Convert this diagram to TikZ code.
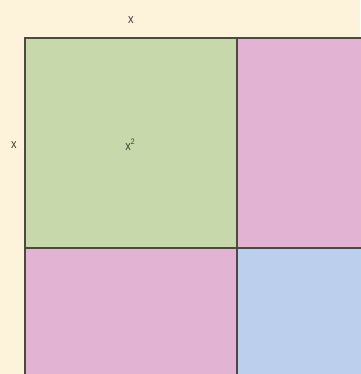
\documentclass[tikz,border=0pt]{standalone}
\usepackage{fontspec}
\setmainfont{Liberation Sans}
\definecolor{bgc}{HTML}{FCF3DA}
\definecolor{grn}{HTML}{C7D8AB}
\definecolor{pnk}{HTML}{E2B3D3}
\definecolor{blu}{HTML}{BCD0EE}
\definecolor{edge}{HTML}{4A4A40}
\definecolor{txt}{HTML}{3E3E36}
\begin{document}
\begin{tikzpicture}[x=1pt,y=-1pt,
  cell/.style={draw=edge,line width=1.2pt},
  lab/.style={text=txt,font=\fontsize{13}{14}\selectfont,inner sep=0pt,xscale=0.85}]
\fill[bgc] (0,0) rectangle (360,374);
\useasboundingbox (0,0) rectangle (360,374);
\fill[pnk] (237,38) rectangle (362,248);
\fill[pnk] (25,248) rectangle (237,376);
\fill[blu] (237,248) rectangle (362,376);
\fill[grn] (25,38) rectangle (237,248);
\draw[cell] (362,38) -- (25,38) -- (25,376);
\draw[cell] (237,38) -- (237,376);
\draw[cell] (25,248) -- (362,248);
\node[lab] (top) at (131,20) {x};
\node[lab] (left) at (14,145) {x};
\node[lab] (sq) at (130,145) {x\raisebox{0.45em}{\fontsize{8}{9}\selectfont 2}};
\end{tikzpicture}
\end{document}
